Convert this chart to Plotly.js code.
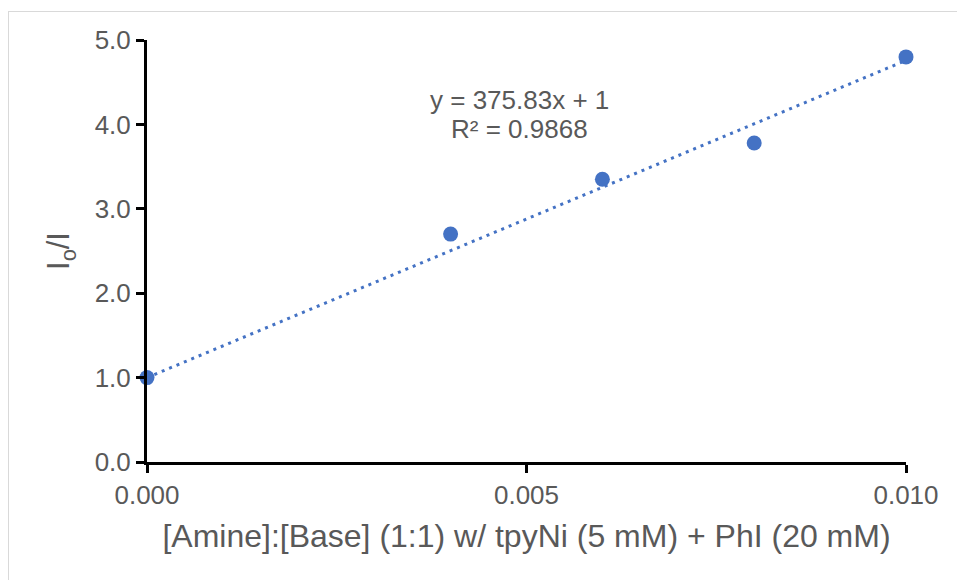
<!DOCTYPE html>
<html>
<head>
<meta charset="utf-8">
<script src="https://cdn.plot.ly/plotly-3.0.1.min.js"></script>
<style>
  html, body { margin: 0; padding: 0; background: #fff; }
  #wrap { position: relative; width: 957px; height: 580px; overflow: hidden; }
  #frame { position: absolute; left: 8px; top: 11px; width: 1000px; height: 1000px;
           border-left: 1px solid #d9d9d9; border-top: 1px solid #d9d9d9; pointer-events: none; }
  #chart { position: absolute; left: 0; top: 0; width: 957px; height: 580px; }
</style>
</head>
<body>
<div id="wrap">
  <div id="chart"></div>
  <div id="frame"></div>
</div>
<script>
// Data
const concentration = [0.000, 0.004, 0.006, 0.008, 0.010];
const ratioIoI = [1.00, 2.70, 3.35, 3.78, 4.80];

// Trendline as displayed on the chart
const fitSlope = 375.83;
const fitIntercept = 1;
const fitLabel = ["y = 375.83x + 1", "R² = 0.9868"];

const xTickVals = [0, 0.005, 0.010];
const xTickText = ["0.000", "0.005", "0.010"];
const yTickVals = [0, 1, 2, 3, 4, 5];
const yTickText = ["0.0", "1.0", "2.0", "3.0", "4.0", "5.0"];

const xTitle = "[Amine]:[Base] (1:1) w/ tpyNi (5 mM) + PhI (20 mM)";
const yTitle = "I<sub>o</sub>/I";

const blue = "#4472C4";
const grey = "#595959";
const font = "Liberation Sans, Arial, sans-serif";

const xFitEnds = [Math.min(...concentration), Math.max(...concentration)];
const yFitEnds = xFitEnds.map(x => fitSlope * x + fitIntercept);

const traces = [
  {
    x: xFitEnds, y: yFitEnds, type: "scatter", mode: "lines",
    line: { color: blue, width: 3, dash: "3px,5px" },
    hoverinfo: "skip", cliponaxis: false
  },
  {
    x: concentration, y: ratioIoI, type: "scatter", mode: "markers",
    marker: { color: blue, size: 15 },
    cliponaxis: false
  }
];

const layout = {
  width: 957, height: 580,
  margin: { l: 147, r: 51, t: 40, b: 118 },
  paper_bgcolor: "#fff", plot_bgcolor: "#fff",
  showlegend: false,
  font: { family: font, color: grey, size: 26 },
  xaxis: {
    range: [0, 0.010], tickvals: xTickVals, ticktext: xTickText,
    showgrid: false, zeroline: false,
    showline: true, linecolor: "#000", linewidth: 3,
    ticks: "outside", ticklen: 8, tickwidth: 3, tickcolor: "#000",
    tickfont: { family: font, size: 26, color: grey },
    title: { text: xTitle, font: { family: font, size: 32, color: grey }, standoff: 16 }
  },
  yaxis: {
    range: [0, 5], tickvals: yTickVals, ticktext: yTickText,
    showgrid: false, zeroline: false,
    showline: true, linecolor: "#000", linewidth: 3,
    ticks: "outside", ticklen: 8, tickwidth: 3, tickcolor: "#000",
    tickfont: { family: font, size: 26, color: grey },
    title: { text: yTitle, font: { family: font, size: 31, color: grey }, standoff: 16 }
  },
  annotations: [
    {
      xref: "x", yref: "y", x: 0.004914, y: 4.29,
      text: fitLabel[0], showarrow: false,
      font: { family: font, size: 26, color: grey }, align: "center"
    },
    {
      xref: "x", yref: "y", x: 0.004914, y: 3.95,
      text: fitLabel[1], showarrow: false,
      font: { family: font, size: 26, color: grey }, align: "center"
    }
  ]
};

Plotly.newPlot("chart", traces, layout, { displayModeBar: false, staticPlot: true });
</script>
</body>
</html>
